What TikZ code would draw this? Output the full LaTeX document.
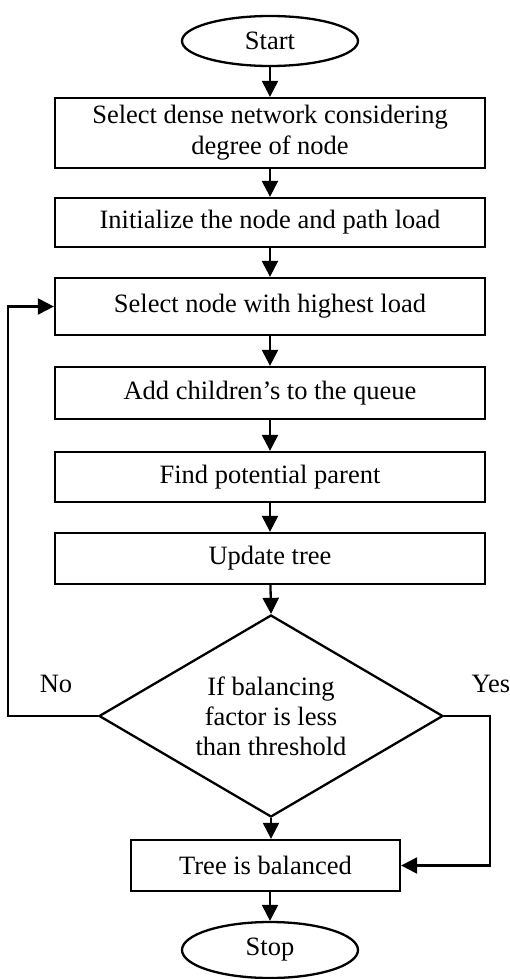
\documentclass[tikz,border=0pt]{standalone}
\usepackage{fontspec}
\setmainfont{Liberation Serif}
\usetikzlibrary{shapes.geometric,arrows.meta}
\begin{document}
\begin{tikzpicture}[x=1pt,y=-1pt,
  line width=2.3pt,
  txt/.style={font=\fontsize{26.5}{31}\selectfont},
  box/.style={draw, rectangle, inner sep=0pt, align=center, txt, minimum width=430pt},
  term/.style={draw, ellipse, inner sep=0pt, txt, minimum width=176pt},
  dec/.style={draw, diamond, aspect=1.7, inner sep=0pt, align=center, font=\fontsize{26.5}{30}\selectfont, minimum width=344pt, minimum height=202pt},
  arr/.style={-{Triangle[length=16pt,width=16pt]}},
  lbl/.style={txt, inner sep=0pt}]
\useasboundingbox (0,0) rectangle (510,979);
\node[term, minimum height=50pt] (start) at (270,41) {Start};
\node[box, minimum height=70pt] (b1) at (270,133) {Select dense network considering\\degree of node};
\node[box, minimum height=49pt] (b2) at (270,222.5) {Initialize the node and path load};
\node[box, minimum height=57pt] (b3) at (270,306.5) {Select node with highest load};
\node[box, minimum height=52pt] (b4) at (270,393) {Add children’s to the queue};
\node[box, minimum height=50pt] (b5) at (270,477) {Find potential parent};
\node[box, minimum height=51pt] (b6) at (270,558.5) {Update tree};
\node[dec] (d) at (271,716) {If balancing\\factor is less\\than threshold};
\node[box, minimum width=269pt, minimum height=51pt] (b7) at (265.5,865.5) {Tree is balanced};
\node[term, minimum height=56pt] (stop) at (270,950) {Stop};
\node[lbl] (no) at (56,684) {No};
\node[lbl] (yes) at (491,684) {Yes};
\coordinate (nl) at (8,0);
\coordinate (yr) at (490,0);
\draw[arr] (start) -- (b1);
\draw[arr] (b1) -- (b2);
\draw[arr] (b2) -- (b3);
\draw[arr] (b3) -- (b4);
\draw[arr] (b4) -- (b5);
\draw[arr] (b5) -- (b6);
\draw[arr] (b6) -- (d.north);
\draw[arr] (d.south) -- (d.south |- b7.north);
\draw[arr] (b7.south -| stop.north) -- (stop.north);
\draw[arr] (d.west) -- (nl |- d.west) -- (nl |- b3.west) -- (b3.west);
\draw[arr] (d.east) -- (yr |- d.east) -- (yr |- b7.east) -- (b7.east);
\end{tikzpicture}
\end{document}
